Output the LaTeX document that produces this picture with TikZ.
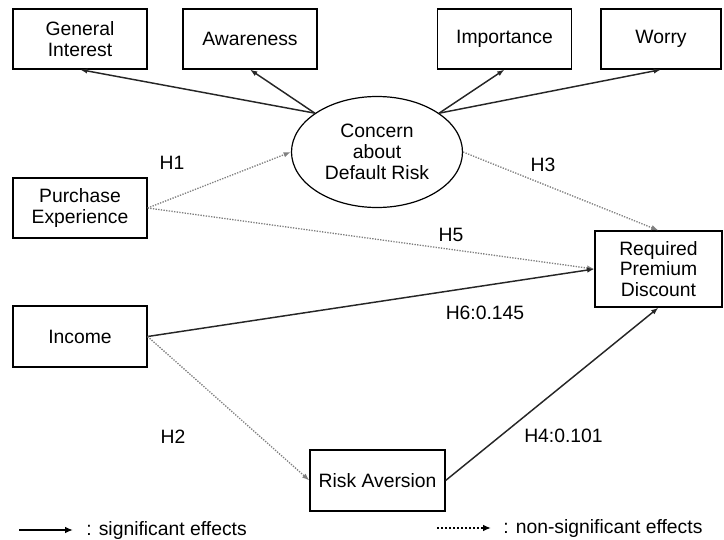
\documentclass[tikz,border=0pt]{standalone}
\usepackage{fontspec}
\setmainfont{Liberation Sans}
\usetikzlibrary{arrows.meta, shapes.geometric}

\begin{document}
\begin{tikzpicture}[x=0.75pt,y=-0.75pt,>={Latex[length=5.5pt,width=4pt]},
  font=\fontsize{14.5}{15.5}\selectfont,
  box/.style={draw,line width=0.9pt,align=center,inner sep=0pt,minimum width=100.5pt,minimum height=45pt},
  latent/.style={ellipse,draw,line width=0.9pt,align=center,inner sep=0pt,minimum width=128.25pt,minimum height=83.25pt},
  sig/.style={->,line width=1.1pt,black!85},
  nonsig/.style={->,densely dotted,line width=1pt,black!50},
  lab/.style={inner sep=0pt}]
\useasboundingbox (0,0) rectangle (724,539);

\node[box] at (80,39) (GI) {General\\Interest};
\node[box] at (250,39) (AW) {Awareness};
\node[box] at (504.5,39) (IM) {Importance};
\node[box,minimum width=90pt] at (661,39) (WO) {Worry};
\node[latent] at (377,152) (CDR) {Concern\\about\\Default Risk};
\node[box] at (80,208) (PE) {Purchase\\Experience};
\node[box,minimum width=95.25pt,minimum height=57pt] at (658.5,269) (RPD) {Required\\Premium\\Discount};
\node[box,minimum height=45.75pt] at (80,336.5) (IN) {Income};
\node[box,minimum width=101.25pt,minimum height=45.75pt] at (377.5,480.5) (RA) {Risk Aversion};

\node[lab] at (172,163) (H1) {H1};
\node[lab] at (543,165) (H3) {H3};
\node[lab] at (451,235) (H5) {H5};
\node[lab] at (485,313) (H6) {H6:0.145};
\node[lab] at (173,437) (H2) {H2};
\node[lab] at (563.5,436) (H4) {H4:0.101};

% indicators
\foreach \n/\a in {GI/148,AW/148,IM/32,WO/32}
  \draw[sig] (CDR.\a) -- (\n.south);

% paths
\draw[nonsig] (PE.east) -- (CDR.west);
\draw[nonsig] (PE.east) -- (RPD.west);
\draw[nonsig] (CDR.east) -- (RPD.north);
\draw[sig] (IN.east) -- (RPD.west);
\draw[nonsig] (IN.east) -- (RA.west);
\draw[sig] (RA.east) -- (RPD.south);

% legend
\coordinate (s1) at (19,530);
\coordinate (s2) at (73,530);
\draw[sig,line width=1.5pt,black,>={Latex[length=6pt,width=5pt]}] (s1) -- (s2);
\node[lab,anchor=west] at (86,530) (sigtext) {: significant effects};
\coordinate (n1) at (437,528);
\coordinate (n2) at (491,528);
\draw[->,dash pattern=on 1.5pt off 1.5pt,line width=1.5pt,black,>={Latex[length=6pt,width=5pt]}] (n1) -- (n2);
\node[lab,anchor=west] at (503,528) (nonsigtext) {: non-significant effects};
\end{tikzpicture}
\end{document}
